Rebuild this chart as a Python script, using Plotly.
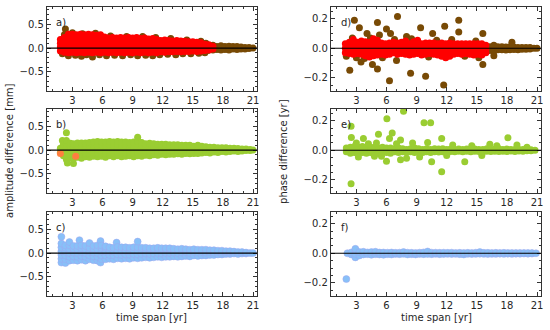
import plotly.graph_objects as go

# ---------------- data (time span [yr] columns -> difference values) ----------------
# Panel a) amplitude difference [mm], red series (drawn on top)
A_RED_X = [1.8, 2.2, 2.6, 3.0, 3.4, 3.8, 4.2, 4.6, 5.0, 5.4, 5.8, 6.2, 6.6, 7.0, 7.4, 7.8, 8.2, 8.6, 9.0, 9.4,
           9.8, 10.2, 10.6, 11.0, 11.4, 11.8, 12.2, 12.6, 13.0, 13.4, 13.8, 14.2, 14.6, 15.0, 15.4, 15.8, 16.2, 16.6, 17.0]
A_RED_Y = [[-0.06, 0.02, 0.1, 0.18], [-0.09, -0.01, 0.07, 0.15, 0.22], [-0.1, -0.02, 0.06, 0.14, 0.22, 0.29],
           [-0.09, -0.01, 0.07, 0.15, 0.23, 0.29], [-0.1, -0.02, 0.06, 0.14, 0.22, 0.28], [-0.09, -0.01, 0.07, 0.15, 0.23, 0.29],
           [-0.1, -0.02, 0.06, 0.14, 0.22, 0.28], [-0.09, -0.01, 0.07, 0.15, 0.23, 0.29], [-0.1, -0.02, 0.06, 0.14, 0.22, 0.28],
           [-0.09, -0.01, 0.07, 0.15, 0.23, 0.27], [-0.1, -0.02, 0.06, 0.14, 0.22, 0.28], [-0.09, -0.01, 0.07, 0.15, 0.23],
           [-0.1, -0.02, 0.06, 0.14, 0.21], [-0.09, -0.01, 0.07, 0.15, 0.22], [-0.1, -0.02, 0.06, 0.14, 0.21],
           [-0.09, -0.01, 0.07, 0.15, 0.22], [-0.1, -0.02, 0.06, 0.14, 0.21], [-0.09, -0.01, 0.07, 0.15, 0.22],
           [-0.1, -0.02, 0.06, 0.14, 0.21], [-0.09, -0.01, 0.07, 0.15, 0.22], [-0.1, -0.02, 0.06, 0.14, 0.2],
           [-0.09, -0.01, 0.07, 0.15, 0.21], [-0.1, -0.02, 0.06, 0.14, 0.19], [-0.09, -0.01, 0.07, 0.15, 0.2],
           [-0.1, -0.02, 0.06, 0.14, 0.18], [-0.08, 0.0, 0.08, 0.16], [-0.09, -0.01, 0.07, 0.15, 0.17],
           [-0.08, 0.0, 0.08, 0.16], [-0.08, 0.0, 0.08, 0.15], [-0.07, 0.01, 0.09, 0.16], [-0.08, 0.0, 0.08, 0.15],
           [-0.07, 0.01, 0.09, 0.14], [-0.07, 0.0, 0.07, 0.13], [-0.06, 0.01, 0.08, 0.13], [-0.07, 0.0, 0.07, 0.12],
           [-0.06, 0.01, 0.08, 0.11], [-0.05, 0.02, 0.08], [-0.04, 0.02, 0.07], [-0.02, 0.04]]
# Panel a) brown series: tail columns beyond the red cloud
A_BROWN_X = [16.5, 17.0, 17.4, 17.8, 18.2, 18.6, 19.0, 19.4, 19.8, 20.2, 20.6, 21.0]
A_BROWN_Y = [[-0.05, 0.0, 0.06], [-0.04, 0.06], [-0.03, 0.03], [-0.04, 0.02, 0.05], [-0.03, 0.03], [-0.04, 0.01, 0.04],
             [-0.02, 0.03], [-0.03, 0.01, 0.03], [-0.02, 0.02], [-0.02, 0.01], [-0.01, 0.01], [0.0]]
# Panel a) brown points sticking out of the red cloud
A_BROWN_PX = [1.9, 2.0, 2.3, 2.2, 2.6, 3.3, 3.9, 4.4, 5.0, 5.3, 5.7, 6.4, 7.2, 8.0, 8.8, 9.5, 10.3, 11.0, 11.7, 12.5,
              13.3, 14.0, 14.8, 15.6, 16.2, 3.0, 4.0, 6.8, 8.4, 10.0, 11.3, 12.8, 14.4, 15.8, 16.3]
A_BROWN_PY = [0.1, -0.12, 0.4, 0.28, -0.16, -0.15, -0.17, -0.14, -0.19, 0.31, -0.14, -0.16, -0.15, -0.16, -0.14, -0.16,
              -0.15, -0.16, -0.14, -0.13, -0.14, -0.12, -0.12, -0.11, -0.1, 0.32, 0.3, 0.25, 0.24, 0.24, 0.22, 0.2, 0.17,
              0.14, 0.1]

# Panel b) amplitude difference [mm], green series
B_GREEN_X = [1.8, 2.0, 2.1, 2.4, 2.5, 2.8, 3.1, 3.5, 3.9, 4.3, 4.7, 5.1, 5.5, 5.9, 6.3, 6.7, 7.1, 7.5, 7.9, 8.3, 8.7,
             9.1, 9.5, 9.9, 10.3, 10.7, 11.1, 11.5, 11.9, 12.3, 12.7, 13.1, 13.5, 13.9, 14.3, 14.7, 15.1, 15.5, 15.9,
             16.3, 16.7, 17.1, 17.5, 17.9, 18.3, 18.7, 19.1, 19.5, 19.9, 20.3, 20.7, 21.0]
B_GREEN_Y = [[-0.05, 0.04], [0.2], [-0.12, -0.04, 0.04, 0.12], [-0.2, -0.12, -0.04, 0.04, 0.12, 0.2, 0.36], [-0.27],
             [-0.16, -0.08, 0.0, 0.08, 0.14], [-0.28, -0.18, -0.1, -0.02, 0.06, 0.13], [-0.15, -0.07, 0.01, 0.09, 0.15],
             [-0.17, -0.09, -0.01, 0.07, 0.15], [-0.14, -0.06, 0.02, 0.1, 0.15], [-0.15, -0.07, 0.01, 0.09, 0.16],
             [-0.13, -0.05, 0.03, 0.11, 0.17], [-0.14, -0.06, 0.02, 0.1, 0.18], [-0.13, -0.05, 0.03, 0.11, 0.17],
             [-0.15, -0.07, 0.01, 0.09, 0.17], [-0.12, -0.04, 0.04, 0.12, 0.18], [-0.14, -0.06, 0.02, 0.1, 0.17],
             [-0.12, -0.04, 0.04, 0.12, 0.18], [-0.14, -0.06, 0.02, 0.1, 0.17], [-0.13, -0.05, 0.03, 0.11, 0.17],
             [-0.12, -0.04, 0.04, 0.12, 0.16], [-0.14, -0.06, 0.02, 0.1, 0.17], [-0.12, -0.04, 0.04, 0.12, 0.19, 0.27],
             [-0.13, -0.05, 0.03, 0.11, 0.16], [-0.11, -0.03, 0.05, 0.13], [-0.12, -0.04, 0.04, 0.12, 0.14],
             [-0.1, -0.02, 0.06, 0.13], [-0.11, -0.03, 0.05, 0.12], [-0.09, -0.01, 0.07, 0.12], [-0.1, -0.02, 0.06, 0.12],
             [-0.09, -0.01, 0.07, 0.11], [-0.09, -0.01, 0.07, 0.11], [-0.08, 0.0, 0.08, 0.11], [-0.09, -0.01, 0.07, 0.1],
             [-0.07, 0.01, 0.08, 0.1], [-0.08, 0.0, 0.07, 0.1], [-0.07, 0.01, 0.08], [-0.07, 0.0, 0.07, 0.1],
             [-0.06, 0.01, 0.08], [-0.05, 0.01, 0.07], [-0.06, 0.0, 0.06], [-0.04, 0.02, 0.06], [-0.05, 0.0, 0.05],
             [-0.03, 0.02, 0.05], [-0.04, 0.01, 0.05], [-0.03, 0.01, 0.04], [-0.02, 0.02, 0.04], [-0.03, 0.01, 0.03],
             [-0.02, 0.02], [-0.01, 0.02], [-0.01, 0.01], [0.0]]
B_ORANGE_X = [1.8, 3.33]
B_ORANGE_Y = [-0.07, -0.13]

# Panel c) amplitude difference [mm], blue series
C_BLUE_X = [1.9, 2.3, 2.7, 3.1, 3.5, 3.7, 3.9, 4.3, 4.7, 5.1, 5.5, 5.8, 5.9, 6.3, 6.7, 7.1, 7.4, 7.5, 7.9, 8.3, 8.7,
            9.1, 9.5, 9.9, 10.3, 10.7, 11.1, 11.5, 11.9, 12.3, 12.7, 13.1, 13.5, 13.9, 14.3, 14.7, 15.1, 15.5, 15.9,
            16.3, 16.7, 17.1, 17.5, 17.9, 18.3, 18.7, 19.1, 19.5, 19.9, 20.3, 20.7, 21.0]
C_BLUE_Y = [[-0.2, -0.12, -0.04, 0.04, 0.12, 0.2, 0.34], [-0.21, -0.13, -0.05, 0.03, 0.11, 0.16],
            [-0.16, -0.08, 0.0, 0.08, 0.16, 0.23], [-0.15, -0.07, 0.01, 0.09, 0.15], [-0.16, -0.08, 0.0, 0.08, 0.15],
            [0.27], [-0.14, -0.06, 0.02, 0.1, 0.16], [-0.16, -0.08, 0.0, 0.08, 0.15], [-0.13, -0.05, 0.03, 0.11, 0.21],
            [-0.15, -0.07, 0.01, 0.09, 0.15], [-0.16, -0.08, 0.0, 0.08, 0.16], [-0.2, 0.25], [-0.13, -0.05, 0.03, 0.11, 0.16],
            [-0.13, -0.05, 0.03, 0.11, 0.14], [-0.12, -0.04, 0.04, 0.12], [-0.13, -0.05, 0.03, 0.11], [0.22],
            [-0.11, -0.03, 0.05, 0.13], [-0.12, -0.04, 0.04, 0.12], [-0.11, -0.03, 0.05, 0.12], [-0.12, -0.04, 0.04, 0.11],
            [-0.1, -0.02, 0.06, 0.12], [-0.11, -0.03, 0.05, 0.12, 0.24], [-0.1, -0.02, 0.06, 0.11], [-0.09, -0.01, 0.07, 0.11],
            [-0.1, -0.02, 0.06, 0.1], [-0.09, -0.01, 0.07, 0.1], [-0.08, 0.0, 0.08, 0.11], [-0.09, -0.01, 0.07, 0.1],
            [-0.08, 0.0, 0.08, 0.1], [-0.08, 0.0, 0.08, 0.1], [-0.07, 0.01, 0.09], [-0.08, 0.0, 0.08], [-0.07, 0.01, 0.09],
            [-0.06, 0.02, 0.08], [-0.07, 0.0, 0.07], [-0.05, 0.02, 0.08], [-0.06, 0.01, 0.07], [-0.05, 0.02, 0.07],
            [-0.05, 0.01, 0.07], [-0.04, 0.02, 0.06], [-0.04, 0.01, 0.06], [-0.03, 0.02, 0.05], [-0.03, 0.01, 0.05],
            [-0.02, 0.02, 0.04], [-0.02, 0.01, 0.04], [-0.01, 0.03], [-0.02, 0.02], [-0.01, 0.02], [-0.01, 0.01],
            [0.0], [0.0]]

# Panel d) phase difference [yr], red series
D_RED_X = [1.9, 2.3, 2.7, 3.1, 3.5, 3.9, 4.3, 4.7, 5.1, 5.5, 5.9, 6.3, 6.7, 7.1, 7.5, 7.9, 8.3, 8.7, 9.1, 9.5, 9.9,
           10.3, 10.7, 11.1, 11.5, 11.9, 12.3, 12.7, 13.1, 13.5, 13.9, 14.3, 14.7, 15.1, 15.5, 15.9]
D_RED_Y = [[-0.03, 0.0, 0.03], [-0.035, -0.01, 0.015, 0.04], [-0.04, -0.015, 0.01, 0.035, 0.06],
           [-0.035, -0.01, 0.015, 0.04], [-0.04, -0.015, 0.01, 0.035, 0.05], [-0.05, -0.025, 0.0, 0.025, 0.045],
           [-0.06, -0.035, -0.01, 0.015, 0.04], [-0.05, -0.025, 0.0, 0.025, 0.05, 0.065], [-0.045, -0.02, 0.005, 0.03, 0.055],
           [-0.04, -0.015, 0.01, 0.035], [-0.045, -0.02, 0.005, 0.03], [-0.04, -0.015, 0.01, 0.035],
           [-0.03, -0.005, 0.02, 0.04], [-0.04, -0.015, 0.01, 0.035], [-0.035, -0.01, 0.015, 0.04],
           [-0.04, -0.015, 0.01, 0.035, 0.05], [-0.045, -0.02, 0.005, 0.03], [-0.04, -0.015, 0.01, 0.035, 0.045],
           [-0.035, -0.01, 0.015, 0.04, 0.055], [-0.045, -0.02, 0.005, 0.03], [-0.04, -0.015, 0.01, 0.035],
           [-0.035, -0.01, 0.015, 0.035], [-0.04, -0.015, 0.01, 0.035], [-0.045, -0.02, 0.005, 0.03],
           [-0.055, -0.03, -0.005, 0.02, 0.035], [-0.065, -0.04, -0.015, 0.01, 0.03], [-0.055, -0.03, -0.005, 0.02, 0.035],
           [-0.04, -0.015, 0.01, 0.03], [-0.035, -0.01, 0.015, 0.03], [-0.04, -0.015, 0.01, 0.03],
           [-0.035, -0.01, 0.015, 0.03], [-0.04, -0.015, 0.01, 0.03], [-0.045, -0.02, 0.005, 0.03],
           [-0.04, -0.015, 0.01, 0.03], [-0.045, -0.02, 0.005, 0.03], [-0.03, -0.005, 0.02]]
# Panel d) brown tail beyond the red cloud
D_BROWN_X = [16.3, 16.7, 17.1, 17.5, 17.9, 18.3, 18.7, 19.1, 19.5, 19.9, 20.3, 20.7, 21.0]
D_BROWN_Y = [[-0.015, 0.01], [-0.02, 0.005, 0.02], [-0.01, 0.01], [-0.01, 0.01], [-0.012, 0.008], [-0.01, 0.01],
             [-0.008, 0.008], [-0.01, 0.006], [-0.006, 0.006], [-0.006, 0.006], [-0.005, 0.005], [0.0], [0.0]]
# Panel d) brown outliers
D_BROWN_PX = [2.8, 3.3, 4.06, 5.1, 5.3, 6.0, 6.4, 7.1, 8.0, 9.4, 10.6, 11.8, 13.2, 13.2, 15.6, 18.5, 2.34, 3.46, 4.6,
              5.1, 6.3, 7.0, 8.4, 9.9, 11.7, 15.6, 16.7, 2.0, 2.6, 3.0, 3.8, 4.4, 5.6, 6.8, 8.5, 10.2, 11.0, 12.5, 13.8,
              14.9, 15.2]
D_BROWN_PY = [0.19, 0.14, 0.1, 0.175, 0.09, 0.13, 0.1, 0.215, 0.08, 0.14, 0.1, 0.15, 0.19, 0.11, 0.1, 0.04, -0.15,
              -0.094, -0.11, -0.14, -0.22, -0.083, -0.17, -0.19, -0.25, -0.11, -0.05, -0.055, 0.07, -0.065, -0.07,
              0.07, -0.065, 0.06, 0.065, -0.06, 0.055, 0.06, -0.055, 0.05, -0.065]

# Panel e) phase difference [yr], green series
E_GREEN_X = [2.0, 2.4, 2.8, 3.2, 3.6, 4.0, 4.4, 4.8, 5.2, 5.6, 6.0, 6.4, 6.8, 7.2, 7.6, 8.0, 8.4, 8.8, 9.2, 9.6, 10.0,
             10.4, 10.8, 11.2, 11.6, 12.0, 12.4, 12.8, 13.2, 13.6, 14.0, 14.4, 14.8, 15.2, 15.6, 16.0, 16.4, 16.8, 17.2,
             17.6, 18.0, 18.4, 18.8, 19.2, 19.6, 20.0, 20.4, 20.8]
E_GREEN_Y = [[-0.01, 0.015], [-0.02, 0.0, 0.02], [-0.015, 0.005, 0.025], [-0.02, 0.0, 0.02], [-0.015, 0.005, 0.025],
             [-0.02, 0.0, 0.02], [-0.015, 0.005, 0.02], [-0.015, 0.005, 0.02], [-0.02, 0.0, 0.015], [-0.015, 0.005, 0.02],
             [-0.015, 0.005, 0.015], [-0.02, 0.0, 0.015], [-0.01, 0.01], [-0.015, 0.005, 0.015], [-0.01, 0.01],
             [-0.015, 0.005], [-0.01, 0.01], [-0.015, 0.005, 0.015], [-0.01, 0.01], [-0.015, 0.005], [-0.01, 0.01],
             [-0.015, 0.005], [-0.01, 0.01], [-0.012, 0.008], [-0.01, 0.01], [-0.01, 0.006], [-0.008, 0.008],
             [-0.01, 0.006], [-0.006, 0.008], [-0.01, 0.005], [-0.006, 0.008], [-0.01, 0.005], [-0.006, 0.008],
             [-0.008, 0.006], [-0.01, 0.005], [-0.006, 0.01], [-0.008, 0.005], [-0.006, 0.008], [-0.008, 0.01],
             [-0.006, 0.006], [-0.008, 0.008], [-0.005, 0.006], [-0.008, 0.005], [-0.005, 0.005], [-0.006, 0.005],
             [-0.004, 0.004], [-0.004, 0.003], [0.0]]
E_GREEN_PX = [2.47, 2.47, 2.5, 3.7, 5.2, 6.04, 6.57, 6.3, 7.4, 7.7, 9.74, 10.4, 10.1, 11.5, 18.1, 6.0, 7.4, 8.0, 10.5,
              11.5, 13.8, 3.0, 4.2, 5.0, 5.5, 7.0, 8.6, 9.3, 12.0, 12.6, 14.5, 15.5, 16.3, 17.0, 19.0, 20.0, 3.2, 4.8]
E_GREEN_PY = [0.163, -0.228, 0.087, 0.08, 0.108, 0.214, 0.117, 0.08, 0.069, 0.264, 0.186, 0.186, 0.053, 0.08, 0.085,
              -0.074, -0.064, -0.055, -0.078, -0.145, -0.078, 0.05, 0.045, 0.05, -0.04, 0.045, 0.05, -0.045, -0.035,
              0.035, 0.03, -0.035, 0.04, 0.03, 0.035, 0.02, -0.045, -0.04]

# Panel f) phase difference [yr], blue series
F_BLUE_X = [2.0, 2.1, 2.5, 2.9, 3.3, 3.7, 4.1, 4.5, 4.9, 5.3, 5.7, 6.1, 6.5, 6.9, 7.3, 7.7, 8.1, 8.5, 8.9, 9.3, 9.7,
            10.1, 10.5, 10.9, 11.3, 11.7, 12.1, 12.5, 12.9, 13.3, 13.7, 14.1, 14.5, 14.9, 15.3, 15.7, 16.1, 16.5,
            16.9, 17.3, 17.7, 18.1, 18.5, 18.9, 19.3, 19.7, 20.1, 20.5, 20.9]
F_BLUE_Y = [[-0.175], [0.0], [-0.008, 0.006], [-0.028, -0.005, 0.02, 0.03], [-0.015, 0.008], [-0.008, 0.01],
            [-0.006, 0.006], [-0.01, 0.008], [-0.006, 0.01], [-0.008, 0.005], [-0.01, 0.005], [-0.006, 0.004],
            [-0.008, 0.005], [-0.005, 0.003], [-0.006, 0.004], [-0.004, 0.008], [-0.008, 0.004], [-0.006, 0.003],
            [-0.008, 0.002], [-0.005, 0.004], [-0.006, 0.006], [-0.005, 0.012], [-0.006, 0.004], [-0.004, 0.004],
            [-0.006, 0.003], [-0.005, 0.004], [-0.004, 0.003], [-0.005, 0.004], [-0.004, 0.002], [-0.006, 0.003],
            [-0.008, 0.002], [-0.004, 0.003], [-0.005, 0.002], [-0.004, 0.004], [-0.003, 0.008], [-0.004, 0.003],
            [-0.005, 0.003], [-0.004, 0.002], [-0.004, 0.003], [-0.003, 0.002], [-0.004, 0.003], [-0.003, 0.002],
            [-0.004, 0.002], [-0.003, 0.002], [-0.003, 0.002], [-0.002, 0.002], [-0.003, 0.002], [-0.002, 0.001],
            [0.0]]

X_TICKS = [3, 6, 9, 12, 15, 18, 21]
AMP_TICKS = [-0.5, 0.0, 0.5]
PHASE_TICKS = [-0.2, 0.0, 0.2]
PANEL_LABELS = ["a)", "b)", "c)", "d)", "e)", "f)"]

BROWN = "#784a05"
RED = "#ff0000"
GREEN = "#9acd32"
ORANGE = "#ff7f3f"
BLUE = "#88c0f8"


def expand(xs, cols):
    px, py = [], []
    for x, ys in zip(xs, cols):
        for y in ys:
            px.append(x)
            py.append(y)
    return px, py


def sfx(n):
    return "" if n == 1 else str(n)


W, H = 550, 330
ROWS = [(7, 91), (109, 193), (212, 296)]
COLS = [(47, 258), (332, 543)]
FONT = dict(family="DejaVu Sans", size=10, color="#262626")
MS = 7

fig = go.Figure()


def add(n, x, y, color, line=None):
    fig.add_trace(go.Scatter(x=x, y=y, mode="markers", xaxis="x" + sfx(n), yaxis="y" + sfx(n), showlegend=False,
                             hoverinfo="skip",
                             marker=dict(size=MS, color=color, line=line or dict(width=0))))


# a)
add(1, *expand(A_BROWN_X, A_BROWN_Y), BROWN)
add(1, A_BROWN_PX, A_BROWN_PY, BROWN)
add(1, *expand(A_RED_X, A_RED_Y), RED)
# b)
add(2, *expand(B_GREEN_X, B_GREEN_Y), GREEN)
add(2, B_ORANGE_X, B_ORANGE_Y, ORANGE)
# c)
blue_line = dict(width=0.5, color="#9fa6ee")
add(3, *expand(C_BLUE_X, C_BLUE_Y), BLUE, blue_line)
# d)
add(4, *expand(D_BROWN_X, D_BROWN_Y), BROWN)
add(4, D_BROWN_PX, D_BROWN_PY, BROWN)
add(4, *expand(D_RED_X, D_RED_Y), RED)
# e)
add(5, *expand(E_GREEN_X, E_GREEN_Y), GREEN)
add(5, E_GREEN_PX, E_GREEN_PY, GREEN)
# f)
add(6, *expand(F_BLUE_X, F_BLUE_Y), BLUE, blue_line)

layout = dict(width=W, height=H, margin=dict(l=0, r=0, t=0, b=0), paper_bgcolor="white", plot_bgcolor="white",
              font=FONT, showlegend=False)
shapes = []
annotations = []
for n in range(1, 7):
    col = 0 if n <= 3 else 1
    row = (n - 1) % 3
    x0, x1 = COLS[col]
    top, bot = ROWS[row]
    amp = col == 0
    yt = AMP_TICKS if amp else PHASE_TICKS
    s = sfx(n)
    ax = dict(domain=[x0 / W, x1 / W], range=[0.45, 21.4], anchor="y" + s, tickvals=X_TICKS,
              ticks="inside", ticklen=4, tickcolor="#333", showline=True, linecolor="#333", linewidth=1,
              mirror="allticks", showgrid=False, zeroline=False, tickfont=FONT,
              minor=dict(tickvals=list(range(1, 22)), ticks="inside", ticklen=2, tickcolor="#333"))
    ay = dict(domain=[1 - bot / H, 1 - top / H], range=[-0.9, 0.86] if amp else [-0.29, 0.28], anchor="x" + s,
              tickvals=yt, ticktext=[("\u2212" if v < 0 else "") + f"{abs(v):.1f}" for v in yt],
              ticks="inside", ticklen=4, tickcolor="#333", showline=True, linecolor="#333", linewidth=1,
              mirror="allticks", showgrid=False, zeroline=False, tickfont=FONT,
              minor=dict(tickvals=[round(-0.8 + 0.1 * i, 2) for i in range(17)] if amp else
                         [round(-0.25 + 0.05 * i, 2) for i in range(11)], ticks="inside", ticklen=2, tickcolor="#333"))
    layout["xaxis" + s] = ax
    layout["yaxis" + s] = ay
    shapes.append(dict(type="line", xref="x" + s + " domain", yref="y" + s, x0=0, x1=1, y0=0, y1=0,
                       line=dict(color="black", width=1.2), layer="above"))
    annotations.append(dict(text=PANEL_LABELS[n - 1], xref="x" + s + " domain", yref="y" + s + " domain",
                            x=0.035 if amp else 0.04, y=0.81, xanchor="left", yanchor="middle",
                            showarrow=False, font=FONT))

annotations += [
    dict(text="amplitude difference [mm]", x=10 / W, y=1 - 151 / H, xref="paper", yref="paper", textangle=-90,
         showarrow=False, font=FONT, xanchor="center", yanchor="middle"),
    dict(text="phase difference [yr]", x=285 / W, y=1 - 151 / H, xref="paper", yref="paper", textangle=-90,
         showarrow=False, font=FONT, xanchor="center", yanchor="middle"),
    dict(text="time span [yr]", x=152 / W, y=1 - 317 / H, xref="paper", yref="paper", showarrow=False,
         font=FONT, xanchor="center", yanchor="middle"),
    dict(text="time span [yr]", x=438 / W, y=1 - 317 / H, xref="paper", yref="paper", showarrow=False,
         font=FONT, xanchor="center", yanchor="middle"),
]
layout["shapes"] = shapes
layout["annotations"] = annotations
fig.update_layout(**layout)
fig.write_html("out.html", config={"displayModeBar": False},
               post_script="document.body.style.margin='0';")
